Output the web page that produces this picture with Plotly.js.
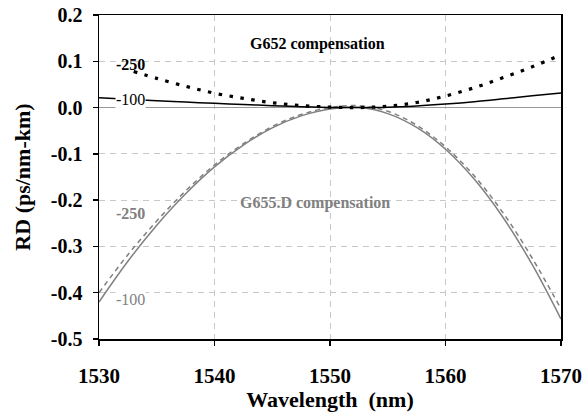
<!DOCTYPE html>
<html><head><meta charset="utf-8">
<script src="https://cdn.plot.ly/plotly-3.0.1.min.js"></script>
<style>
html,body{margin:0;padding:0;background:#fff;}
#chart{width:583px;height:412px;}
#chart svg text{font-family:'Liberation Serif','Times New Roman',serif !important;}
</style>
</head><body><div id="chart"></div>
<script>
// G652 compensation, -250 (black dotted)
const g652_250_x = [1533, 1535, 1537.5, 1540, 1542.5, 1545, 1547.5, 1550, 1552.5, 1555, 1557.5, 1560, 1562.5, 1565, 1567.5, 1570];
const g652_250_y = [0.078, 0.063, 0.046, 0.031, 0.020, 0.0105, 0.0045, 0.001, 0.0, 0.003, 0.011, 0.025, 0.043, 0.065, 0.088, 0.114];
// G652 compensation, -100 (black solid)
const g652_100_x = [1530, 1532.5, 1535, 1537.5, 1540, 1542.5, 1545, 1547.5, 1550, 1552.5, 1555, 1557.5, 1560, 1562.5, 1565, 1567.5, 1570];
const g652_100_y = [0.021, 0.018, 0.0148, 0.0118, 0.0092, 0.0067, 0.0042, 0.0018, 0.0003, 0.0, 0.0008, 0.0035, 0.0075, 0.0125, 0.0188, 0.0255, 0.0315];
// G655.D compensation, -250 (grey dashed)
const g655_250_x = [1530, 1532.5, 1535, 1537.5, 1540, 1542.5, 1545, 1547.5, 1550, 1552.5, 1555, 1557.5, 1560, 1562.5, 1565, 1567.5, 1570];
const g655_250_y = [-0.400, -0.318, -0.245, -0.180, -0.124, -0.078, -0.041, -0.015, 0.0, 0.004, -0.008, -0.038, -0.085, -0.148, -0.228, -0.325, -0.435];
// G655.D compensation, -100 (grey solid)
const g655_100_x = [1530, 1532.5, 1535, 1537.5, 1540, 1542.5, 1545, 1547.5, 1550, 1552.5, 1555, 1557.5, 1560, 1562.5, 1565, 1567.5, 1570];
const g655_100_y = [-0.420, -0.332, -0.254, -0.186, -0.128, -0.081, -0.044, -0.018, -0.003, 0.0, -0.013, -0.043, -0.090, -0.155, -0.238, -0.339, -0.457];

const xTickVals = [1530, 1540, 1550, 1560, 1570];
const xTickText = ['1530', '1540', '1550', '1560', '1570'];
const yTickVals = [0.2, 0.1, 0.0, -0.1, -0.2, -0.3, -0.4, -0.5];
const yTickText = ['0.2', '0.1', '0.0', '-0.1', '-0.2', '-0.3', '-0.4', '-0.5'];

const FONT = 'Liberation Serif';
const GREY = '#808080';

const traces = [
  {x: g655_250_x, y: g655_250_y, mode: 'lines', line: {color: GREY, width: 1.5, dash: '5px,4px', shape: 'spline'}},
  {x: g655_100_x, y: g655_100_y, mode: 'lines', line: {color: GREY, width: 1.5, shape: 'spline'}},
  {x: g652_100_x, y: g652_100_y, mode: 'lines', line: {color: '#000', width: 1.5, shape: 'spline'}},
  {x: g652_250_x, y: g652_250_y, mode: 'lines', line: {color: '#000', width: 3.2, dash: '3.5px,7.5px', shape: 'spline'}}
];

function tf(size, color, bold) {
  const f = {family: FONT, size: size, color: color};
  if (bold) f.weight = 'bold';
  return f;
}

const layout = {
  width: 583, height: 412,
  margin: {l: 99, r: 22.4, t: 15, b: 72.7},
  paper_bgcolor: '#fff', plot_bgcolor: '#fff',
  showlegend: false,
  font: {family: FONT, color: '#000'},
  xaxis: {
    range: [1530, 1570], tickvals: xTickVals, ticktext: xTickText,
    ticks: 'outside', ticklen: 5, tickwidth: 1.5, tickcolor: '#000',
    showline: true, linecolor: '#000', linewidth: 1.5, mirror: true,
    showgrid: true, gridcolor: '#c8c8c8', griddash: '6px,5px', gridwidth: 1,
    zeroline: false, ticklabelstandoff: 12,
    tickfont: tf(21, '#000', true),
    title: {text: 'Wavelength  (nm)', font: tf(22, '#000', true), standoff: 0}
  },
  yaxis: {
    range: [-0.5, 0.2], tickvals: yTickVals, ticktext: yTickText,
    ticks: 'outside', ticklen: 5, tickwidth: 1.5, tickcolor: '#000',
    showline: true, linecolor: '#000', linewidth: 1.5, mirror: true,
    showgrid: true, gridcolor: '#c8c8c8', griddash: '6px,5px', gridwidth: 1,
    zeroline: true, zerolinecolor: '#999', zerolinewidth: 1.5,
    ticklabelstandoff: 6,
    tickfont: tf(20, '#000', true),
    title: {text: 'RD (ps/nm-km)', font: tf(22, '#000', true), standoff: 14}
  },
  annotations: [
    {x: 1548.9, y: 0.137, xref: 'x', yref: 'y', text: 'G652 compensation', showarrow: false, font: tf(16, '#000', true)},
    {x: 1548.7, y: -0.206, xref: 'x', yref: 'y', text: 'G655.D compensation', showarrow: false, font: tf(16, GREY, true)},
    {x: 1532.7, y: 0.093, xref: 'x', yref: 'y', text: '-250', showarrow: false, font: tf(16, '#000', true)},
    {x: 1532.7, y: 0.017, xref: 'x', yref: 'y', text: '-100', showarrow: false, bgcolor: '#fff', borderpad: 0, font: tf(16, '#000', false)},
    {x: 1532.7, y: -0.228, xref: 'x', yref: 'y', text: '-250', showarrow: false, font: tf(16, GREY, true)},
    {x: 1532.7, y: -0.414, xref: 'x', yref: 'y', text: '-100', showarrow: false, bgcolor: '#fff', borderpad: 0, font: tf(16, GREY, false)}
  ]
};

Plotly.newPlot('chart', traces, layout, {staticPlot: true, displayModeBar: false});
</script>
</body></html>
